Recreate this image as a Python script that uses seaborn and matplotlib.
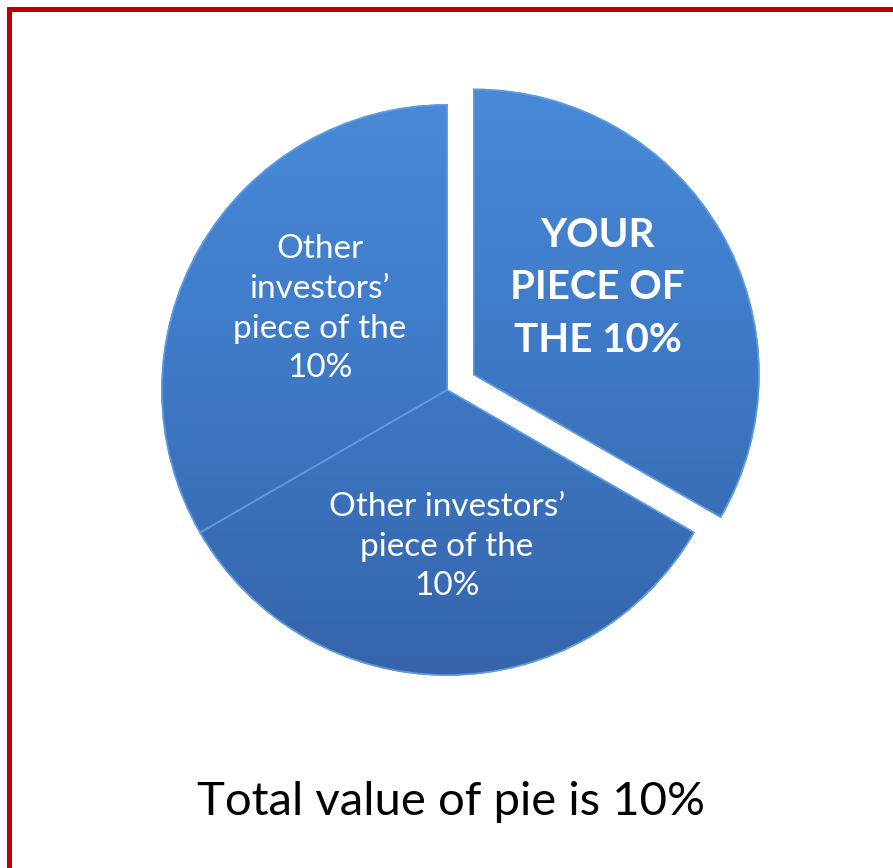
import numpy as np
import matplotlib
matplotlib.use("Agg")
import matplotlib.pyplot as plt
import seaborn as sns
from matplotlib.colors import LinearSegmentedColormap
from matplotlib.patches import Rectangle, Wedge

# Pie data: three equal pieces of the 10%
labels = ["YOUR\nPIECE OF\nTHE 10%",
          "Other investors\u2019\npiece of the\n10%",
          "Other\ninvestors\u2019\npiece of the\n10%"]
shares = [1, 1, 1]
explode = [31, 0, 0]          # pixels, pie explode is in data units
bold = [True, False, False]
caption = "Total value of pie is 10%"

# label placement: fraction of radius, angle nudge (deg)
label_dist = [0.53, 0.55, 0.53]
label_turn = [5, 0, -2.5]

sns.set_theme(style="white")
plt.rcParams["font.family"] = ["Lato", "DejaVu Sans"]

W, H = 893, 868
fig = plt.figure(figsize=(W / 100, H / 100), dpi=100)
ax = fig.add_axes([0, 0, 1, 1])

cx, cy, r = 447, H - 390, 285
wedges, texts = ax.pie(
    shares, labels=labels, startangle=90, counterclock=False,
    explode=explode, center=(cx, cy), radius=r,
    colors=["#3F7DCB"] * 3,
    wedgeprops=dict(edgecolor="#5C9AE2", linewidth=1.2),
    textprops=dict(color="white"),
)

# vertical shading clipped to each slice
cmap = LinearSegmentedColormap.from_list("blue", ["#3564AA", "#3D78C4", "#4889D8"])
grad = np.linspace(0, 1, 256).reshape(-1, 1)
for w in wedges:
    wx, wy = w.center
    im = ax.imshow(grad, extent=[wx - r, wx + r, wy - r, wy + r], origin="lower",
                   cmap=cmap, aspect="auto", zorder=w.get_zorder() + 0.1,
                   interpolation="bilinear")
    im.set_clip_path(w)
    ax.add_patch(Wedge(w.center, w.r, w.theta1, w.theta2, facecolor="none",
                       edgecolor="#5C9AE2", linewidth=1.2,
                       zorder=w.get_zorder() + 0.2))

for t, w, b, d, turn in zip(texts, wedges, bold, label_dist, label_turn):
    ang = np.deg2rad((w.theta1 + w.theta2) / 2 + turn)
    t.set_position((w.center[0] + d * w.r * np.cos(ang),
                    w.center[1] + d * w.r * np.sin(ang)))
    t.set_ha("center")
    t.set_va("center")
    t.set_multialignment("center")
    t.set_zorder(5)
    if b:
        t.set_fontsize(29)
        t.set_fontweight("bold")
        t.set_linespacing(1.52)
    else:
        t.set_fontsize(24)
        t.set_linespacing(1.4)

ax.set_xlim(0, W)
ax.set_ylim(0, H)
ax.set_axis_off()

fig.text(0.505, 1 - 802 / H, caption, ha="center", va="center",
         fontsize=34, color="black")

fig.patches.append(Rectangle((8.5 / W, -0.2), 2, (H - 9.5) / H + 0.2,
                             transform=fig.transFigure, fill=False,
                             edgecolor="#C00000", linewidth=3.6))

fig.savefig("out.png", dpi=100, facecolor="white")
